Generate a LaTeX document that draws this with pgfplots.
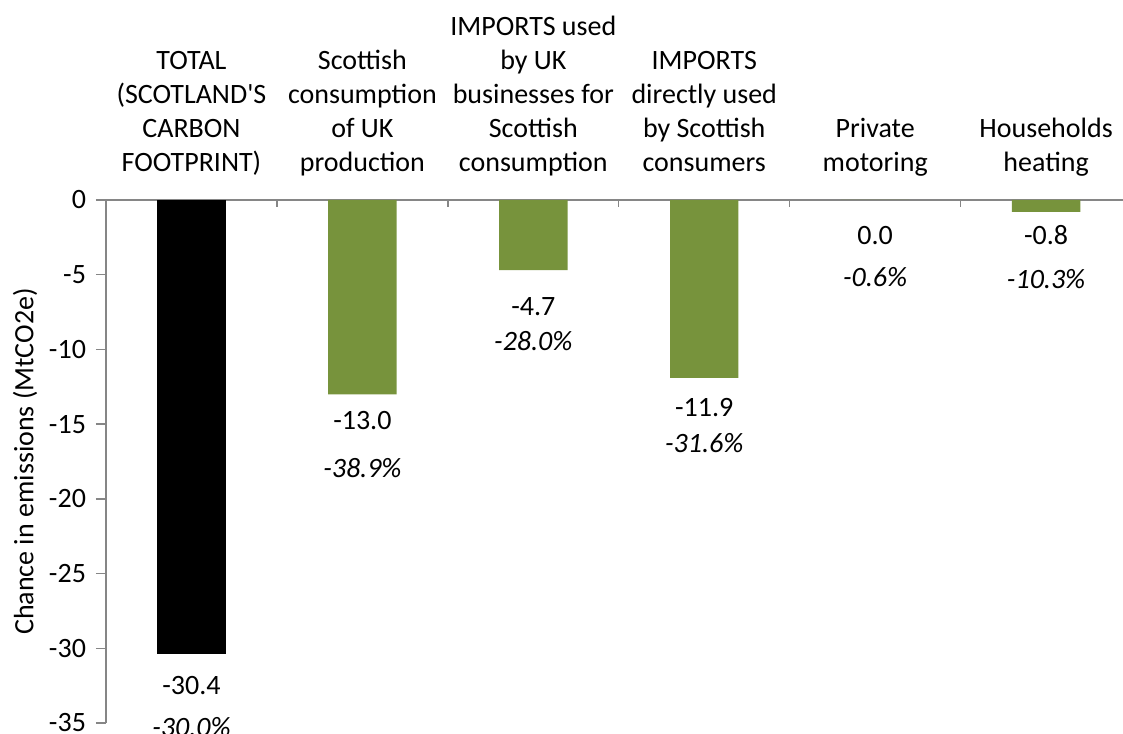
\documentclass[border=0pt]{standalone}
\usepackage{pgfplots}
\pgfplotsset{compat=1.18}
\usepackage{fontspec}
\setmainfont{Carlito}
\definecolor{axisgray}{HTML}{868686}
\definecolor{barolive}{HTML}{77933C}

% value labels and percentage labels: x, y position of the text, text
\pgfplotstableread{
x y lab
0 -32.46 -30.4
1 -14.73 -13.0
2 -7.16 -4.7
3 -13.92 -11.9
4 -2.41 0.0
5 -2.34 -0.8
}\valuelabels
\pgfplotstableread{
x y lab
0 -35.27 -30.0
1 -17.94 -38.9
2 -9.44 -28.0
3 -16.26 -31.6
4 -5.15 -0.6
5 -5.29 -10.3
}\pctlabels

\begin{document}
\begin{tikzpicture}
\begin{axis}[
    scale only axis,
    width=762.75pt, height=392.25pt,
    xmin=-0.5, xmax=5.45,
    ymin=-35, ymax=0,
    axis x line*=top, axis y line*=left,
    axis line style={draw=axisgray, line width=1pt},
    font=\fontsize{21}{25.5}\selectfont,
    /pgf/number format/assume math mode=true,
    ytick={-35,-30,...,0},
    y tick label style={xshift=-4pt},
    xtick={0,...,5},
    xticklabels={
        {TOTAL\\(SCOTLAND\textquotesingle S\\CARBON\\FOOTPRINT)\strut},
        {Scottish\\consumption\\of UK\\production\strut},
        {IMPORTS used\\by UK\\businesses for\\Scottish\\consumption\strut},
        {IMPORTS\\directly used\\by Scottish\\consumers\strut},
        {Private\\motoring\strut},
        {Households\\heating\strut}},
    x tick label style={align=center, anchor=south, inner sep=0pt, yshift=6pt},
    major x tick style={draw=none},
    minor xtick={0.5,1.5,...,4.5},
    minor x tick style={draw=axisgray, line width=1pt, yshift=-5pt},
    minor tick length=5pt,
    major tick length=7.5pt,
    tick align=outside,
    y tick style={draw=axisgray, line width=1pt},
    ylabel={Chance in emissions (MtCO2e)},
    ylabel style={font=\fontsize{21}{24}\selectfont, yshift=2pt},
    clip=false,
]
    \coordinate (bl) at (rel axis cs:0,0);
    % total
    \addplot[ybar, bar width=0.4, bar shift=0pt, fill=black, draw=none]
        coordinates {(0,-30.4)};
    % components
    \addplot[ybar, bar width=0.4, bar shift=0pt, fill=barolive, draw=none]
        coordinates {(1,-13.0) (2,-4.7) (3,-11.9) (4,0.0) (5,-0.8)};

    \addplot[draw=none, mark=none, point meta=explicit symbolic,
        nodes near coords,
        every node near coord/.append style={anchor=center, font=\fontsize{21}{24}\selectfont}]
        table[x=x, y=y, meta=lab] {\valuelabels};
    \addplot[draw=none, mark=none, point meta=explicit symbolic,
        nodes near coords={\textit{\pgfplotspointmeta\%}},
        every node near coord/.append style={anchor=center, font=\fontsize{21}{24}\selectfont}]
        table[x=x, y=y, meta=lab] {\pctlabels};
\end{axis}
\pgfresetboundingbox
\useasboundingbox (bl) ++(-79.5pt,-8.25pt) rectangle ++(842.25pt,550.5pt);
\end{tikzpicture}
\end{document}
